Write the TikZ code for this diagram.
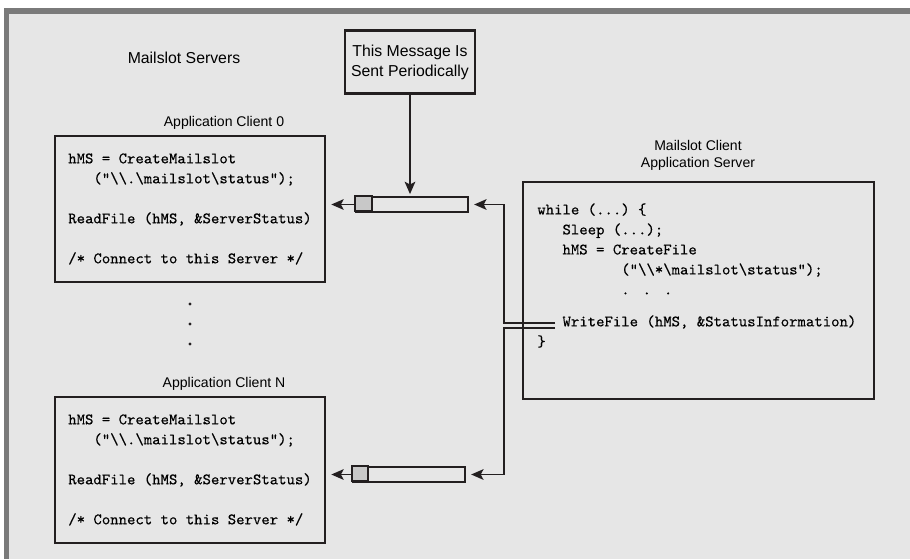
\documentclass[tikz,border=0pt]{standalone}
\usepackage{fontspec}
\setmainfont{Liberation Sans}
\setmonofont[FakeBold=0.3]{lmmono10-regular.otf}
\usetikzlibrary{positioning, arrows.meta}
\definecolor{msBack}{RGB}{230,230,230}
\definecolor{msFrame}{RGB}{122,122,122}
\definecolor{msLine}{RGB}{35,31,32}
\definecolor{msSlot}{RGB}{200,200,200}
\newcommand{\msCode}{\ttfamily\frenchspacing\fontsize{9.1}{11.38}\selectfont}
\newcommand{\msTitle}{\fontsize{8}{9.7}\selectfont}
\newcommand{\bs}{\textbackslash}

\begin{document}
\begin{tikzpicture}[x=0.02cm, y=-0.02cm,
  clientbox/.style={draw=msLine, line width=1.5pt, minimum width=5.4cm, minimum height=2.92cm, align=left, font=\msCode, inner sep=0pt},
  slot/.style={draw=msLine, line width=1.3pt, fill=msBack, minimum width=2.24cm, minimum height=0.3cm, inner sep=0pt},
  conn/.style={draw=msLine, line width=1.1pt, -{Stealth[length=7pt, width=6pt, inset=1.5pt]}},
  title/.style={font=\msTitle, align=center, inner sep=0pt}]
  \useasboundingbox (0,0) rectangle (910,559);
  % frame and background
  \fill[msBack] (9,14) rectangle (910,559);
  \fill[msFrame] (4,8) rectangle (910,14);
  \fill[msFrame] (4,8) rectangle (9,559);

  \node[title, font=\fontsize{9}{10}\selectfont] (servers) at (184,58) {Mailslot Servers};
  \node[draw=msLine, line width=1.5pt, minimum width=2.6cm, minimum height=1.26cm, align=center, font=\fontsize{9}{11.3}\selectfont] (msg) at (410,62) {This Message Is\\Sent Periodically};

  % the servers
  \node[title] (t0) at (224,123) {Application Client 0};
  \node[clientbox] (c0) at (190,209) {
    hMS = CreateMailslot\\
    \hspace*{1.575em}("\bs\bs.\bs mailslot\bs status");\\[11.38pt]
    ReadFile (hMS, \&ServerStatus)\\[11.38pt]
    /* Connect to this Server */};
  \foreach \y in {304,324,344}
    \fill[msLine] (190,\y) circle (1.6);
  \node[title] (tN) at (224,384) {Application Client N};
  \node[clientbox] (cN) at (190,470) {
    hMS = CreateMailslot\\
    \hspace*{1.575em}("\bs\bs.\bs mailslot\bs status");\\[11.38pt]
    ReadFile (hMS, \&ServerStatus)\\[11.38pt]
    /* Connect to this Server */};

  % the mailslots
  \node[slot] (slot0) at (412,204.5) {};
  \fill[msSlot, draw=msLine, line width=1.3pt] (slot0.north west) rectangle ++(17,15);
  \node[slot] (slotN) at (409,474.5) {};
  \fill[msSlot, draw=msLine, line width=1.3pt] (slotN.north west) rectangle ++(16,15);

  % the client
  \node[title] (tsrv) at (698,155) {Mailslot Client\\Application Server};
  \node[draw=msLine, line width=1.5pt, minimum width=7.02cm, minimum height=4.34cm] (srv) at (698.5,290.5) {};
  \node[anchor=north west, align=left, font=\msCode, inner sep=0pt] (code) at (537,203) {
    while (...) \{\\
    \hspace*{1.575em}Sleep (...);\\
    \hspace*{1.575em}hMS = CreateFile\\
    \hspace*{5.25em}("\bs\bs*\bs mailslot\bs status");\\
    \hspace*{5.25em}.\hspace*{0.81em}.\hspace*{0.81em}.\\[6.8pt]
    \hspace*{1.575em}WriteFile (hMS, \&StatusInformation)\\
    \}};
  \coordinate (wr0) at (555,323);
  \coordinate (wr1) at (555,328);

  % connectors
  \draw[conn, shorten >=1pt] (msg.south -| 410,0) -- (410,0 |- slot0.north);
  \draw[conn, shorten >=0.1cm] (slot0.west) -- (slot0.west -| c0.east);
  \draw[conn, shorten >=0.1cm] (slotN.west) -- (slotN.west -| cN.east);
  \draw[conn, shorten >=0.1cm] (wr0) -- (504,323) |- (slot0.east);
  \draw[conn, shorten >=0.1cm] (wr1) -- (504,328) |- (slotN.east);
\end{tikzpicture}
\end{document}
